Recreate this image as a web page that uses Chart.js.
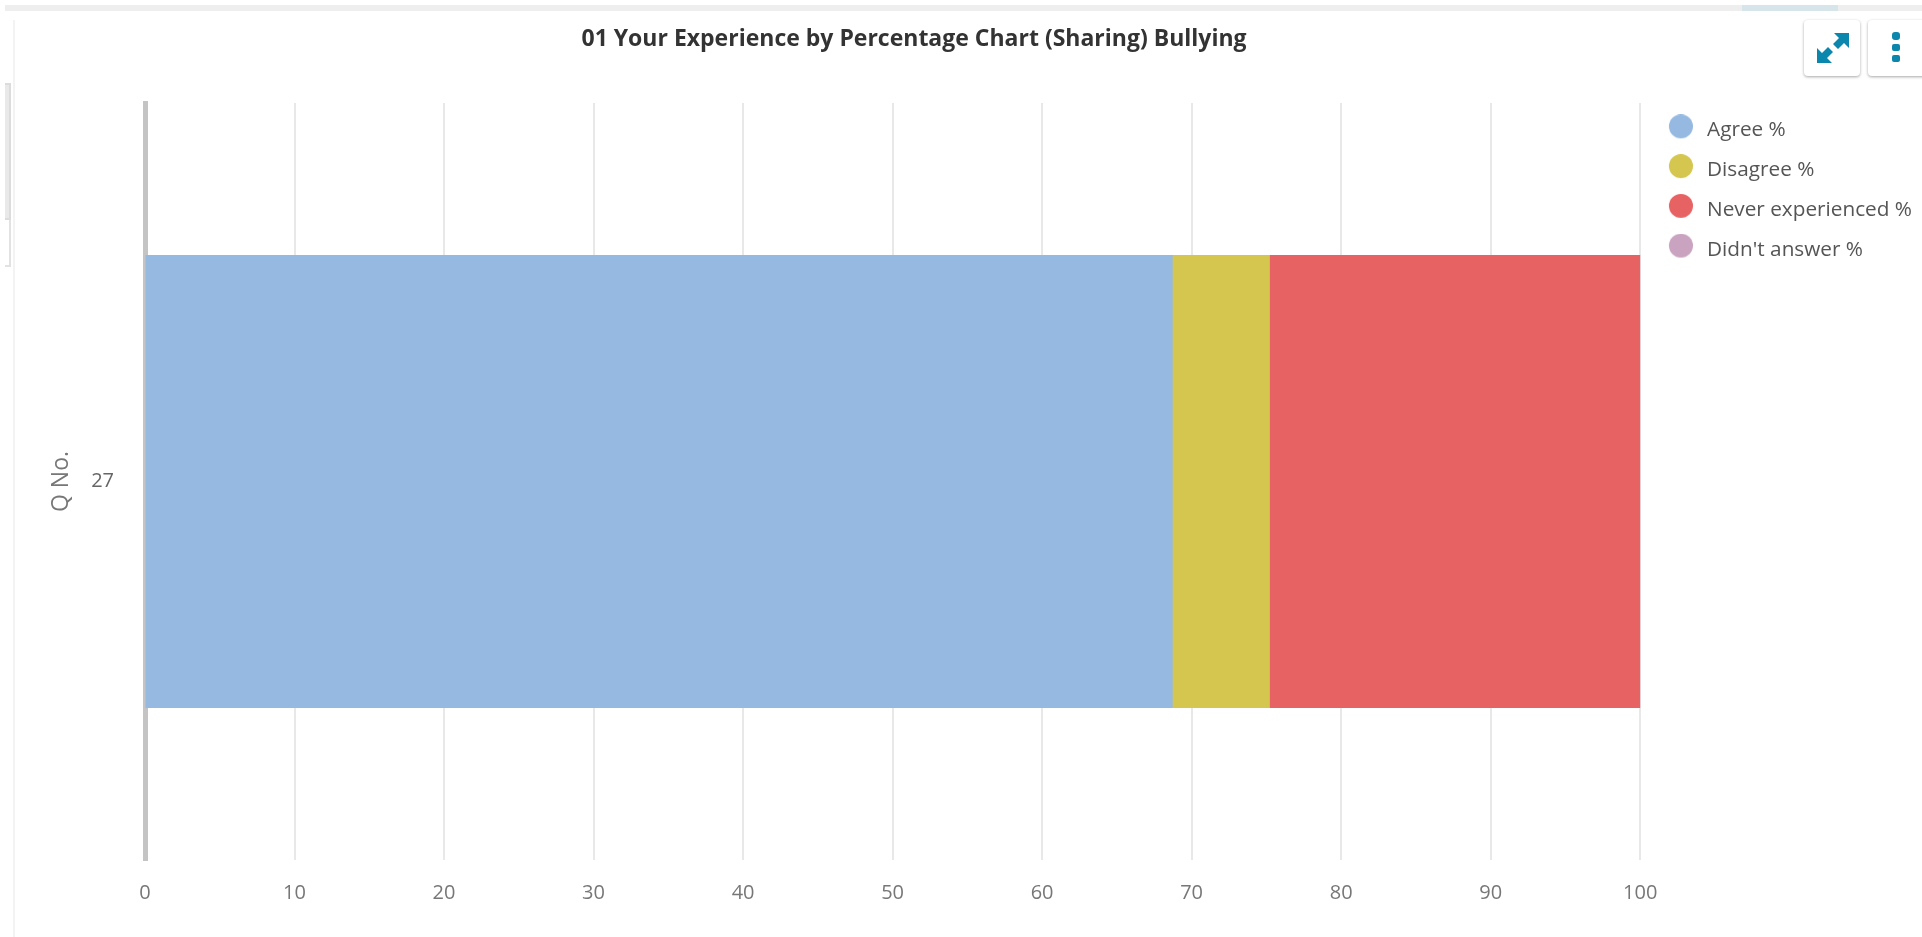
<!DOCTYPE html>
<html>
<head>
<meta charset="utf-8">
<title>01 Your Experience by Percentage Chart (Sharing) Bullying</title>
<script src="https://cdn.jsdelivr.net/npm/chart.js@4"></script>
<style>
  html, body { margin: 0; padding: 0; background: #fff; overflow: hidden; }
  #wrap { position: absolute; left: 0; top: 0; width: 1922px; height: 937px; }
  .deco { position: absolute; box-sizing: border-box; }
  .btn { position: absolute; box-sizing: border-box; top: 20px; height: 56px; background: #fff; border-radius: 4px;
         box-shadow: 0 1px 3px rgba(0,0,0,.35); z-index: 3; }
</style>
</head>
<body>
<div id="wrap">
  <div class="deco" style="left:5px;top:5px;width:1917px;height:6px;background:#eeeeee"></div>
  <div class="deco" style="left:1742px;top:5px;width:96px;height:6px;background:#d5e5ea"></div>
  <div class="deco" style="left:13px;top:20px;width:2px;height:917px;background:#f3f3f3"></div>
  <div class="deco" style="left:5px;top:83px;width:6px;height:137px;background:#e9e9e9;border-right:2px solid #dcdcdc;border-top:2px solid #dcdcdc;border-bottom:2px solid #dcdcdc"></div>
  <div class="deco" style="left:5px;top:220px;width:6px;height:47px;border-right:2px solid #e2e2e2;border-bottom:2px solid #e2e2e2"></div>
  <canvas id="chart" width="1922" height="937" style="position:absolute;left:0;top:0;width:1922px;height:937px"></canvas>
  <div class="btn" style="left:1804px;width:56px">
    <svg width="56" height="56" viewBox="0 0 56 56">
      <g fill="#0b87ad">
        <path d="M13 43 L13 28 L18 33 L24 27 L29 32 L23 38 L28 43 Z"/>
        <path d="M45 13 L45 28 L40 23 L34 29 L29 24 L35 18 L30 13 Z"/>
      </g>
    </svg>
  </div>
  <div class="btn" style="left:1868px;width:60px">
    <svg width="56" height="56" viewBox="0 0 56 56">
      <g fill="#0b87ad">
        <rect x="24" y="12" width="8" height="8" rx="3"/>
        <rect x="24" y="24" width="8" height="7" rx="2"/>
        <rect x="24" y="35" width="8" height="7" rx="2"/>
      </g>
    </svg>
  </div>
</div>
<script>
const categories = ["27"];
const series_names = ["Agree %", "Disagree %", "Never experienced %", "Didn't answer %"];
const series_colors = ["#95b9e1", "#d4c64e", "#e76363", "#c9a3bf"];
const agree_values = [68.7];
const disagree_values = [6.5];
const never_values = [24.8];
const no_answer_values = [0];
const value_ticks = [0, 10, 20, 30, 40, 50, 60, 70, 80, 90, 100];

Chart.defaults.font.family = "'Open Sans', sans-serif";

// legend dots are bigger than the text box chart.js allows, so use small canvases.
// the dot sits off centre in its canvas to line up with the legend text
function makeDot(color) {
  const c = document.createElement("canvas");
  c.width = 30;
  c.height = 32;
  const g = c.getContext("2d");
  g.fillStyle = color;
  g.beginPath();
  g.arc(18, 12, 12, 0, Math.PI * 2);
  g.fill();
  return c;
}
const dots = series_colors.map(makeDot);

const series_values = [agree_values, disagree_values, never_values, no_answer_values];

const panel_layout = {
  id: "panel_layout",
  afterLayout(chart) {
    // title is centred on the panel, not on the canvas
    chart.titleBlock.left = 0;
    chart.titleBlock.right = 1828;
    // legend starts level with the plot
    chart.legend.top = 101;
  },
};

new Chart(document.getElementById("chart"), {
  type: "bar",
  plugins: [panel_layout],
  data: {
    labels: categories,
    datasets: series_names.map((name, i) => ({
      label: name,
      data: series_values[i],
      backgroundColor: series_colors[i],
      barPercentage: 0.597,
      categoryPercentage: 1,
      inflateAmount: 0.5,
    })),
  },
  options: {
    indexAxis: "y",
    responsive: false,
    animation: false,
    plugins: {
      tooltip: { enabled: false },
      title: {
        display: true,
        text: "01 Your Experience by Percentage Chart (Sharing) Bullying",
        color: "#333333",
        font: { size: 23, weight: "bold" },
        padding: { top: 25.5, bottom: 49.9 },
      },
      legend: {
        position: "right",
        align: "start",
        labels: {
          usePointStyle: true,
          pointStyleWidth: 37.5,
          padding: 19,
          color: "#555555",
          font: { size: 20.75 },
          generateLabels(chart) {
            return Chart.defaults.plugins.legend.labels.generateLabels(chart).map((item, i) => {
              item.pointStyle = dots[i];
              return item;
            });
          },
        },
      },
    },
    scales: {
      x: {
        stacked: true,
        min: 0,
        max: 100,
        afterBuildTicks(scale) {
          scale.ticks = value_ticks.map(v => ({ value: v }));
        },
        afterFit(scale) {
          scale.height = 77;
        },
        grid: {
          // no line at 0, the y axis border is there
          color: ctx => (ctx.tick.value === 0 ? "transparent" : "#e8e8e8"),
          lineWidth: 2,
          drawTicks: false,
        },
        border: { display: false },
        ticks: { color: "#777777", font: { size: 20 }, padding: 21, maxRotation: 0 },
      },
      y: {
        stacked: true,
        afterFit(scale) {
          scale.width = 145;
        },
        grid: { display: false, drawTicks: false },
        border: { color: "#c4c4c4", width: 5 },
        title: {
          display: true,
          text: "Q No.",
          color: "#777777",
          font: { size: 23 },
          padding: { top: 48, bottom: 0 },
        },
        ticks: { color: "#666666", font: { size: 20 }, padding: 31 },
      },
    },
  },
});
</script>
</body>
</html>
